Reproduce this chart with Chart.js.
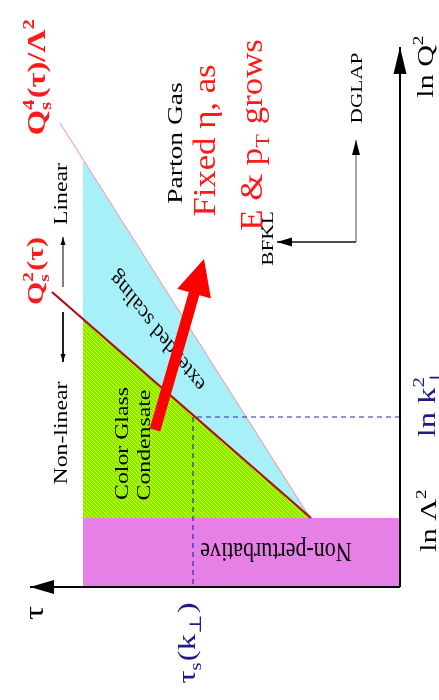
<!DOCTYPE html>
<html>
<head>
<meta charset="utf-8">
<script src="https://cdn.jsdelivr.net/npm/chart.js@4/dist/chart.umd.min.js"></script>
<style>
  html, body { margin: 0; padding: 0; background: #fff; }
  canvas { display: block; }
</style>
</head>
<body>
<canvas id="c" width="439" height="700"></canvas>
<script>
// Regimes of small-x evolution in the (τ, ln Q²) plane.
// τ grows to the left, ln Q² grows upward.

// Saturation line Q_s²(τ)
const satTau   = [8.9, 34.8];
const satLnQ2  = [6.9, 29.5];
// Upper edge of the extended scaling window, Q_s⁴(τ)/Λ²
const scalTau  = [9.0, 34.0];
const scalLnQ2 = [6.9, 46.4];
// Non-perturbative band below ln Λ²
const npTau    = [0, 31.7, 31.7, 0, 0];
const npLnQ2   = [0, 0, 6.9, 6.9, 0];
// Colour Glass Condensate region
const cgcTau   = [8.9, 31.7, 31.7, 8.9];
const cgcLnQ2  = [6.9, 6.9, 26.7, 6.9];
// Extended scaling region
const extTau   = [8.9, 31.7, 31.7, 8.9];
const extLnQ2  = [6.9, 26.7, 42.7, 6.9];
// ln k⊥² level and the saturation time τ_s(k⊥)
const kTau     = [0, 20.7, 20.7];
const kLnQ2    = [17, 17, 0];
// Axes
const tauAxisTau  = [0, 37];
const tauAxisLnQ2 = [0, 0];
const qAxisTau    = [0, 0];
const qAxisLnQ2   = [0, 54];
// DGLAP and BFKL directions
const dglapTau  = [4.4, 4.4];
const dglapLnQ2 = [34.5, 44.7];
const bfklTau   = [4.4, 12.3];
const bfklLnQ2  = [34.5, 34.5];
// Linear / non-linear markers
const linTau     = [33.7, 33.7];
const linLnQ2    = [30, 35];
const nonlinTau  = [33.7, 33.7];
const nonlinLnQ2 = [27.5, 22.5];
// Evolution at fixed η as E and p_T grow
const evoTau  = [24.5, 19.6];
const evoLnQ2 = [15.7, 32.8];

const pts = (xs, ys) => xs.map((v, i) => ({ x: v, y: ys[i] }));

const RED = '#ff1a1a';
const DARKRED = '#b00c10';
const BLUE = '#1c1c8c';
const SERIF = '"Liberation Serif","DejaVu Serif",serif';

// Lime fill with fine yellow diagonal hatching
function hatchPattern() {
  const c = document.createElement('canvas');
  c.width = 4; c.height = 4;
  const g = c.getContext('2d');
  g.fillStyle = '#7cf200';
  g.fillRect(0, 0, 4, 4);
  g.strokeStyle = '#f0f600';
  g.lineWidth = 1;
  g.beginPath();
  g.moveTo(-1, -1); g.lineTo(5, 5);
  g.moveTo(-1, 3); g.lineTo(1, 5);
  g.moveTo(3, -1); g.lineTo(5, 1);
  g.stroke();
  return g.createPattern(c, 'repeat');
}

// Text placed in (τ, ln Q²) units; rot in degrees, sy stretches along the page vertical.
const diagramLabels = [
  { at: [35.5, 51.05], rot: -90, size: 26, weight: 'bold', sy: 1.25, color: RED,
    parts: ['Q', { sup: '4', sub: 's' }, '(τ)/Λ', { sup: '2' }] },
  { at: [35.7, 31.6], rot: -90, size: 24, weight: 'bold', sy: 1.25, color: RED,
    parts: ['Q', { sup: '2', sub: 's' }, '(τ)'] },
  { at: [-3.3, 52.1], rot: -90, size: 24, sy: 1.25, color: '#000', parts: ['ln Q', { sup: '2' }] },
  { at: [-3.6, 6.7], rot: -90, size: 24, sy: 1.25, color: '#000', parts: ['ln Λ', { sup: '2' }] },
  { at: [-3.5, 18.5], rot: -90, size: 26, sy: 1.25, color: BLUE, parts: ['ln k', { sup: '2', sub: '⊥' }] },
  { at: [20.5, -5.6], rot: -90, size: 26, sy: 1.25, color: BLUE,
    parts: ['τ', { sub: 's' }, '(k', { sub: '⊥' }, ')'] },
  { at: [35.7, -2.6], rot: -90, size: 28, sy: 1.25, color: '#000', parts: ['τ'] },
  { at: [33.3, 39.3], rot: -90, size: 19, sy: 1.25, color: '#000', parts: ['Linear'] },
  { at: [33.3, 15.4], rot: -90, size: 19, sy: 1.25, color: '#000', parts: ['Non-linear'] },
  { at: [21.8, 44.4], rot: -90, size: 22, sy: 1.25, color: '#000', parts: ['Parton Gas'] },
  { at: [18.5, 44.65], rot: -90, size: 31, sy: 1.12, color: RED, parts: ['Fixed η, as'] },
  { at: [13.8, 45.2], rot: -90, size: 31, sy: 1.12, color: RED, parts: ['E & p', { sub: 'T' }, ' grows'] },
  { at: [3.8, 49.9], rot: -90, size: 17, sy: 1.25, color: '#000', parts: ['DGLAP'] },
  { at: [12.7, 34.85], rot: -90, size: 17, sy: 1.25, color: '#000', parts: ['BFKL'] },
  { at: [27.2, 14.35], rot: -90, size: 19, sy: 1.25, color: '#000', parts: ['Color Glass'] },
  { at: [25.0, 14.2], rot: -90, size: 19, sy: 1.25, color: '#000', parts: ['Condensate'] },
  { at: [24.2, 25.6], rot: 225.6, size: 19, sy: 1.25, color: '#000', baseline: 'middle', parts: ['extended scaling'] },
  { at: [12.4, 4.4], rot: 180, size: 22, sy: 1.25, color: '#000', parts: ['Non-perturbative'] }
];

function fontStr(weight, size) {
  return (weight || 'normal') + ' ' + size + 'px ' + SERIF;
}

function drawRich(ctx, lab) {
  const size = lab.size;
  const small = size * 0.64;
  const runs = lab.parts.map(p => {
    const r = typeof p === 'string' ? { t: p } : Object.assign({}, p);
    if (r.t === undefined) {
      ctx.font = fontStr(lab.weight, small);
      const w1 = r.sup ? ctx.measureText(r.sup).width : 0;
      const w2 = r.sub ? ctx.measureText(r.sub).width : 0;
      r.w = Math.max(w1, w2) + size * 0.04;
    } else {
      ctx.font = fontStr(lab.weight, size);
      r.w = ctx.measureText(r.t).width;
    }
    return r;
  });
  const total = runs.reduce((a, r) => a + r.w, 0);
  let x = -total / 2;
  ctx.textAlign = 'left';
  ctx.textBaseline = lab.baseline || 'alphabetic';
  for (const r of runs) {
    if (r.t !== undefined) {
      ctx.font = fontStr(lab.weight, size);
      ctx.fillText(r.t, x, 0);
    } else {
      ctx.font = fontStr(lab.weight, small);
      if (r.sup) ctx.fillText(r.sup, x, -size * 0.42);
      if (r.sub) ctx.fillText(r.sub, x, size * 0.24);
    }
    x += r.w;
  }
}

const labelPlugin = {
  id: 'diagramLabels',
  afterDatasetsDraw(chart) {
    const { ctx } = chart;
    const xs = chart.scales.x, ys = chart.scales.y;
    for (const lab of diagramLabels) {
      const px = xs.getPixelForValue(lab.at[0]);
      const py = ys.getPixelForValue(lab.at[1]);
      ctx.save();
      ctx.translate(px, py);
      ctx.scale(1, lab.sy || 1);
      ctx.rotate(lab.rot * Math.PI / 180);
      ctx.fillStyle = lab.color;
      drawRich(ctx, lab);
      ctx.restore();
    }
  }
};

function arrowHead(ctx, from, tip, a) {
  const dx = tip.x - from.x, dy = tip.y - from.y;
  const L = Math.hypot(dx, dy);
  const ux = dx / L, uy = dy / L;
  const bx = tip.x - ux * a.len, by = tip.y - uy * a.len;
  const hw = a.width / 2;
  ctx.beginPath();
  ctx.moveTo(tip.x, tip.y);
  ctx.lineTo(bx - uy * hw, by + ux * hw);
  ctx.lineTo(bx + uy * hw, by - ux * hw);
  ctx.closePath();
  ctx.fill();
}

const arrowPlugin = {
  id: 'arrowHeads',
  afterDatasetsDraw(chart) {
    const ctx = chart.ctx;
    chart.data.datasets.forEach((ds, i) => {
      const a = ds.arrow;
      if (!a) return;
      const p = chart.getDatasetMeta(i).data;
      const n = p.length;
      ctx.save();
      ctx.fillStyle = a.color;
      if (a.shaft) {
        const dx = p[n - 1].x - p[0].x, dy = p[n - 1].y - p[0].y;
        const L = Math.hypot(dx, dy);
        const ux = dx / L, uy = dy / L;
        ctx.strokeStyle = a.color;
        ctx.lineWidth = a.shaft;
        ctx.lineCap = 'butt';
        ctx.beginPath();
        ctx.moveTo(p[0].x, p[0].y);
        ctx.lineTo(p[n - 1].x - ux * (a.len - 2), p[n - 1].y - uy * (a.len - 2));
        ctx.stroke();
      }
      arrowHead(ctx, p[n - 2], p[n - 1], a);
      ctx.restore();
    });
  }
};

const ctx = document.getElementById('c').getContext('2d');

const lineDs = (data, color, width, order, extra) => Object.assign({
  data, borderColor: color, borderWidth: width, fill: false, order, pointRadius: 0
}, extra || {});

const areaDs = (data, color, order) => ({
  data, borderWidth: 0, borderColor: 'rgba(0,0,0,0)', backgroundColor: color,
  fill: 'shape', order, pointRadius: 0
});

new Chart(ctx, {
  type: 'line',
  data: {
    datasets: [
      areaDs(pts(npTau, npLnQ2), '#e67fe6', 20),
      areaDs(pts(extTau, extLnQ2), '#a8f0f8', 19),
      areaDs(pts(cgcTau, cgcLnQ2), hatchPattern(), 18),
      lineDs(pts(scalTau, scalLnQ2), '#f2a4b4', 1.2, 17),
      lineDs(pts(satTau, satLnQ2), DARKRED, 2.2, 16),
      lineDs(pts(kTau, kLnQ2), '#2a2aa8', 1.2, 15, { borderDash: [5, 4] }),
      lineDs(pts(tauAxisTau, tauAxisLnQ2), '#000', 2, 14, { arrow: { len: 24, width: 14, color: '#000' } }),
      lineDs(pts(qAxisTau, qAxisLnQ2), '#000', 2, 14, { arrow: { len: 27, width: 13, color: '#000' } }),
      lineDs(pts(dglapTau, dglapLnQ2), '#777', 1.3, 13, { arrow: { len: 15, width: 8, color: '#000' } }),
      lineDs(pts(bfklTau, bfklLnQ2), '#111', 1.3, 13, { arrow: { len: 15, width: 9, color: '#000' } }),
      lineDs(pts(linTau, linLnQ2), '#000', 1, 12, { arrow: { len: 8, width: 5, color: '#000' } }),
      lineDs(pts(nonlinTau, nonlinLnQ2), '#000', 1, 12, { arrow: { len: 8, width: 5, color: '#000' } }),
      lineDs(pts(evoTau, evoLnQ2), RED, 0, 1, { showLine: false, arrow: { len: 36, width: 35, shaft: 11, color: '#ff0000' } })
    ]
  },
  options: {
    responsive: false,
    animation: false,
    events: [],
    layout: { padding: 0, autoPadding: false },
    elements: { point: { radius: 0 }, line: { tension: 0 } },
    plugins: {
      legend: { display: false },
      tooltip: { enabled: false }
    },
    scales: {
      x: { type: 'linear', reverse: true, min: -3.9, max: 40, display: false },
      y: { type: 'linear', min: -11.3, max: 58.7, display: false }
    }
  },
  plugins: [labelPlugin, arrowPlugin]
});
</script>
</body>
</html>
